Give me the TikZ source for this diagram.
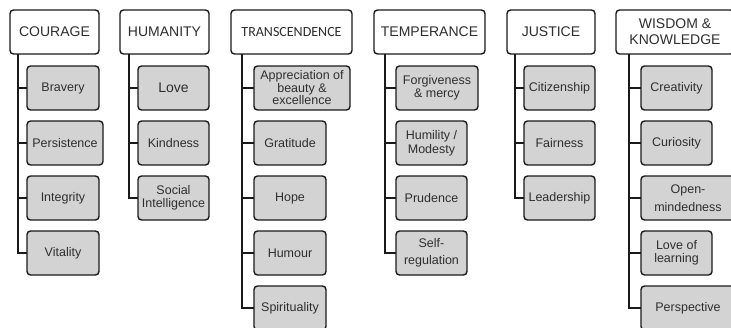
\documentclass[tikz,border=0pt]{standalone}
\usepackage{fontspec}
\setmainfont{Liberation Sans}
\newfontfamily\carl{Carlito}
\definecolor{boxfill}{HTML}{D3D3D3}
\definecolor{txt}{HTML}{2E2E2E}
\definecolor{edge}{HTML}{1A1A1A}
\begin{document}
\begin{tikzpicture}[x=1pt,y=-1pt,
  base/.style={draw=edge, line width=1.4pt, rounded corners=3.5pt, align=center, inner sep=0pt, outer sep=0pt, anchor=north west, text=txt, minimum height=44pt},
  head/.style={base, fill=white, font=\fontsize{14}{16}\selectfont},
  item/.style={base, fill=boxfill, font=\fontsize{12.5}{12.5}\selectfont},
  wide/.style={font=\fontsize{12.5}{17.5}\selectfont},
  conn/.style={draw=edge, line width=1.4pt}]
\useasboundingbox (0,0) rectangle (731,327);
\clip (0,0) rectangle (731,327);
% headers
\node[head, minimum width=89pt] (hc) at (10,10) {COURAGE};
\node[head, minimum width=89pt] (hh) at (120,10) {HUMANITY};
\node[head, minimum width=121pt, font=\carl\fontsize{14}{16}\selectfont] (ht) at (231,10) {TRANSCENDENCE};
\node[head, minimum width=111pt] (hte) at (374,10) {TEMPERANCE};
\node[head, minimum width=88pt] (hj) at (507,10) {JUSTICE};
\node[head, minimum width=118pt] (hw) at (616,10) {WISDOM \&\\KNOWLEDGE};
% junction coordinates
\coordinate (jc) at (18,54);
\coordinate (jh) at (129,54);
\coordinate (jt) at (242,54);
\coordinate (jte) at (385,54);
\coordinate (jj) at (515,54);
\coordinate (jw) at (629,54);
% courage
\node[item, minimum width=72pt] (c1) at (27,66) {Bravery};
\node[item, minimum width=76pt] (c2) at (27,121) {Persistence};
\node[item, minimum width=72pt] (c3) at (27,176) {Integrity};
\node[item, minimum width=72pt] (c4) at (27,231) {Vitality};
% humanity
\node[item, minimum width=71pt, font=\fontsize{14}{14}\selectfont] (h1) at (138,66) {Love};
\node[item, minimum width=71pt] (h2) at (138,121) {Kindness};
\node[item, minimum width=71pt] (h3) at (138,176) {Social\\Intelligence};
% transcendence
\node[item, minimum width=96pt] (t1) at (254,66) {Appreciation of\\beauty \&\\excellence};
\node[item, minimum width=72pt] (t2) at (254,121) {Gratitude};
\node[item, minimum width=72pt] (t3) at (254,176) {Hope};
\node[item, minimum width=72pt] (t4) at (254,231) {Humour};
\node[item, minimum width=72pt] (t5) at (254,286) {Spirituality};
% temperance
\node[item, minimum width=82pt] (p1) at (396,66) {Forgiveness\\\& mercy};
\node[item, minimum width=71pt, font=\fontsize{12.5}{14}\selectfont] (p2) at (396,121) {Humility /\\Modesty};
\node[item, minimum width=71pt] (p3) at (396,176) {Prudence};
\node[item, minimum width=71pt, wide] (p4) at (396,231) {Self-\\regulation};
% justice
\node[item, minimum width=71pt] (j1) at (524,66) {Citizenship};
\node[item, minimum width=71pt] (j2) at (524,121) {Fairness};
\node[item, minimum width=71pt] (j3) at (524,176) {Leadership};
% wisdom
\node[item, minimum width=71pt] (w1) at (641,66) {Creativity};
\node[item, minimum width=71pt] (w2) at (641,121) {Curiosity};
\node[item, minimum width=94pt, wide] (w3) at (641,176) {Open-\\mindedness};
\node[item, minimum width=71pt] (w4) at (641,231) {Love of\\learning};
\node[item, minimum width=94pt] (w5) at (641,286) {Perspective};
% connectors
\foreach \j/\c in {jc/c1,jc/c2,jc/c3,jc/c4,jh/h1,jh/h2,jh/h3,jt/t1,jt/t2,jt/t3,jt/t4,jt/t5,jte/p1,jte/p2,jte/p3,jte/p4,jj/j1,jj/j2,jj/j3,jw/w1,jw/w2,jw/w3,jw/w4,jw/w5}
  \draw[conn] (\j) |- (\c.west);
\end{tikzpicture}
\end{document}
